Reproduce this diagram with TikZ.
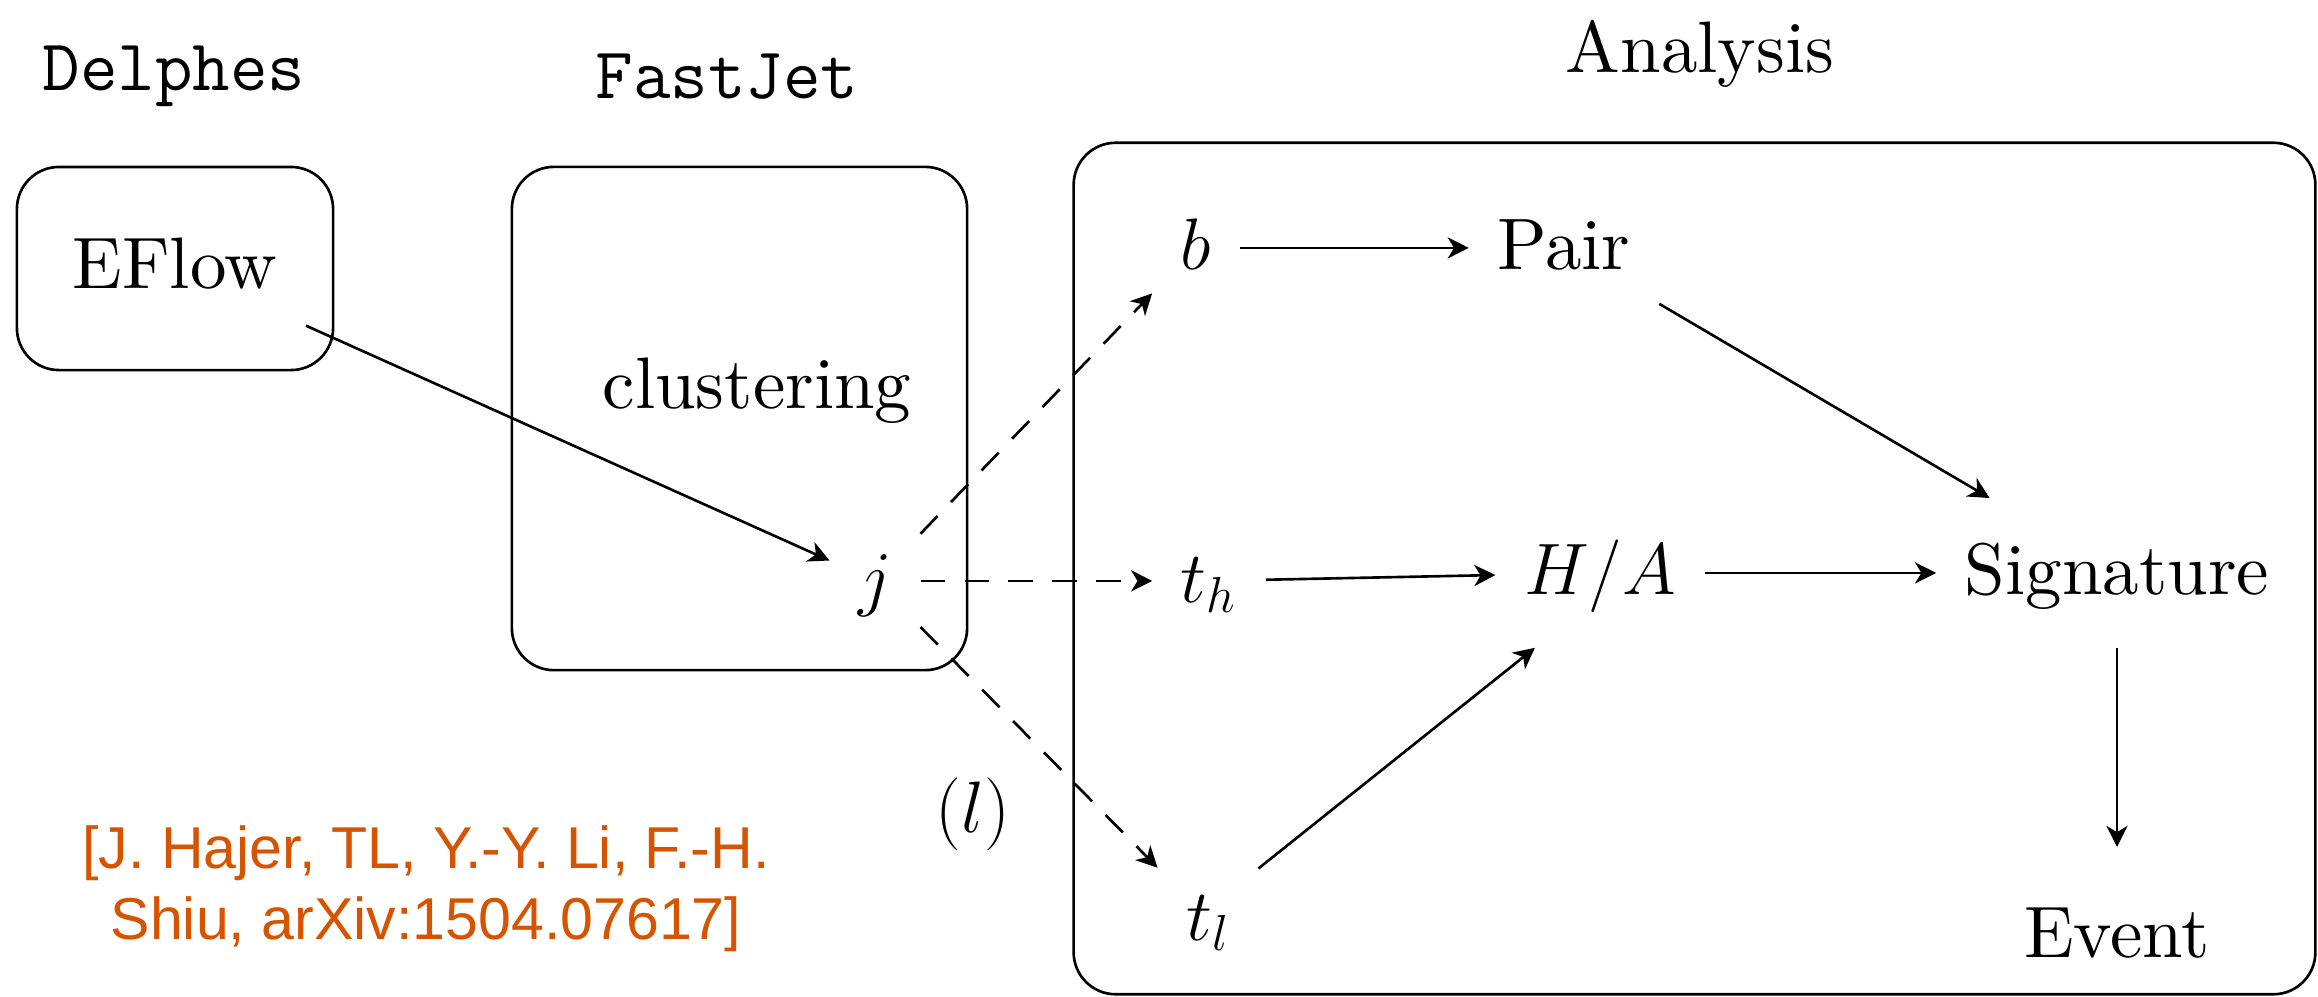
\documentclass[tikz,border=0pt]{standalone}
\usepackage{fontspec}
\setmainfont{lmroman10-regular.otf}
\newfontfamily\citefont{Liberation Sans}
\usetikzlibrary{arrows.meta, positioning}
\definecolor{citeorange}{RGB}{214, 84, 0}

\begin{document}
\begin{tikzpicture}[
    x=0.01cm, y=-0.01cm,
    every node/.style={font=\fontsize{20.74}{25}\selectfont},
    lbl/.style={inner xsep=0.28cm, inner ysep=0.39cm, text height=16pt, text depth=4pt, anchor=base},
    head/.style={anchor=base, inner sep=0pt},
    panel/.style={draw, rounded corners=0.42cm, line width=0.75pt},
    flow/.style={-{Stealth[length=6pt, width=6pt, inset=1.8pt]}, line width=0.75pt},
    jet/.style={flow, dash pattern=on 7pt off 5.5pt}
]
\useasboundingbox (0,0) rectangle (2318,996);

% the three stages
\node[panel, minimum width=3.16cm, minimum height=2.03cm] (delphesbox) at (175,268.5) {};
\node[panel, minimum width=4.55cm, minimum height=5.03cm] (fastjetbox) at (739.5,418.5) {};
\node[panel, minimum width=12.41cm, minimum height=8.51cm] (analysisbox) at (1694.5,568.5) {};
\node[head, font=\fontsize{20.74}{25}\selectfont\ttfamily] (delphes) at (174,90) {Delphes};
\node[head, font=\fontsize{20.74}{25}\selectfont\ttfamily] (fastjet) at (727,98) {FastJet};
\node[head] (analysis) at (1700,72) {Analysis};

\node[lbl] (eflow) at (175,288) {EFlow};
\node[lbl] (clust) at (757,408) {clustering};
\node[lbl] (j) at (875,602) {$j$};

\node[lbl] (b) at (1196,269) {$b$};
\node[lbl] (pair) at (1564,269) {Pair};
\node[lbl] (th) at (1209,602) {$t_h$};
\node[lbl] (ha) at (1600,594) {$H/A$};
\node[lbl] (sig) at (2117,594) {Signature};
\node[lbl] (tl) at (1208,940) {$t_l$};
\node[lbl] (event) at (2117,957) {Event};
\node[head] (lnote) at (973,832) {$(l)$};

\node[anchor=north, inner sep=0pt, align=center, text=citeorange,
      font=\citefont\fontsize{16.8}{20.2}\selectfont] (cite) at (426,825)
    {[J. Hajer, TL, Y.-Y. Li, F.-H.\\Shiu, arXiv:1504.07617]};

\draw[flow] (eflow) -- (j);
\draw[jet] (j) -- (b);
\draw[jet] (j) -- (th);
\draw[jet] (j) -- (tl);
\draw[flow] (b) -- (pair);
\draw[flow] (pair) -- (sig);
\draw[flow] (th) -- (ha);
\draw[flow] (tl.45) -- (ha.229);
\draw[flow] (ha) -- (sig);
\draw[flow, shorten >=4pt] (sig) -- (event);
\end{tikzpicture}
\end{document}
